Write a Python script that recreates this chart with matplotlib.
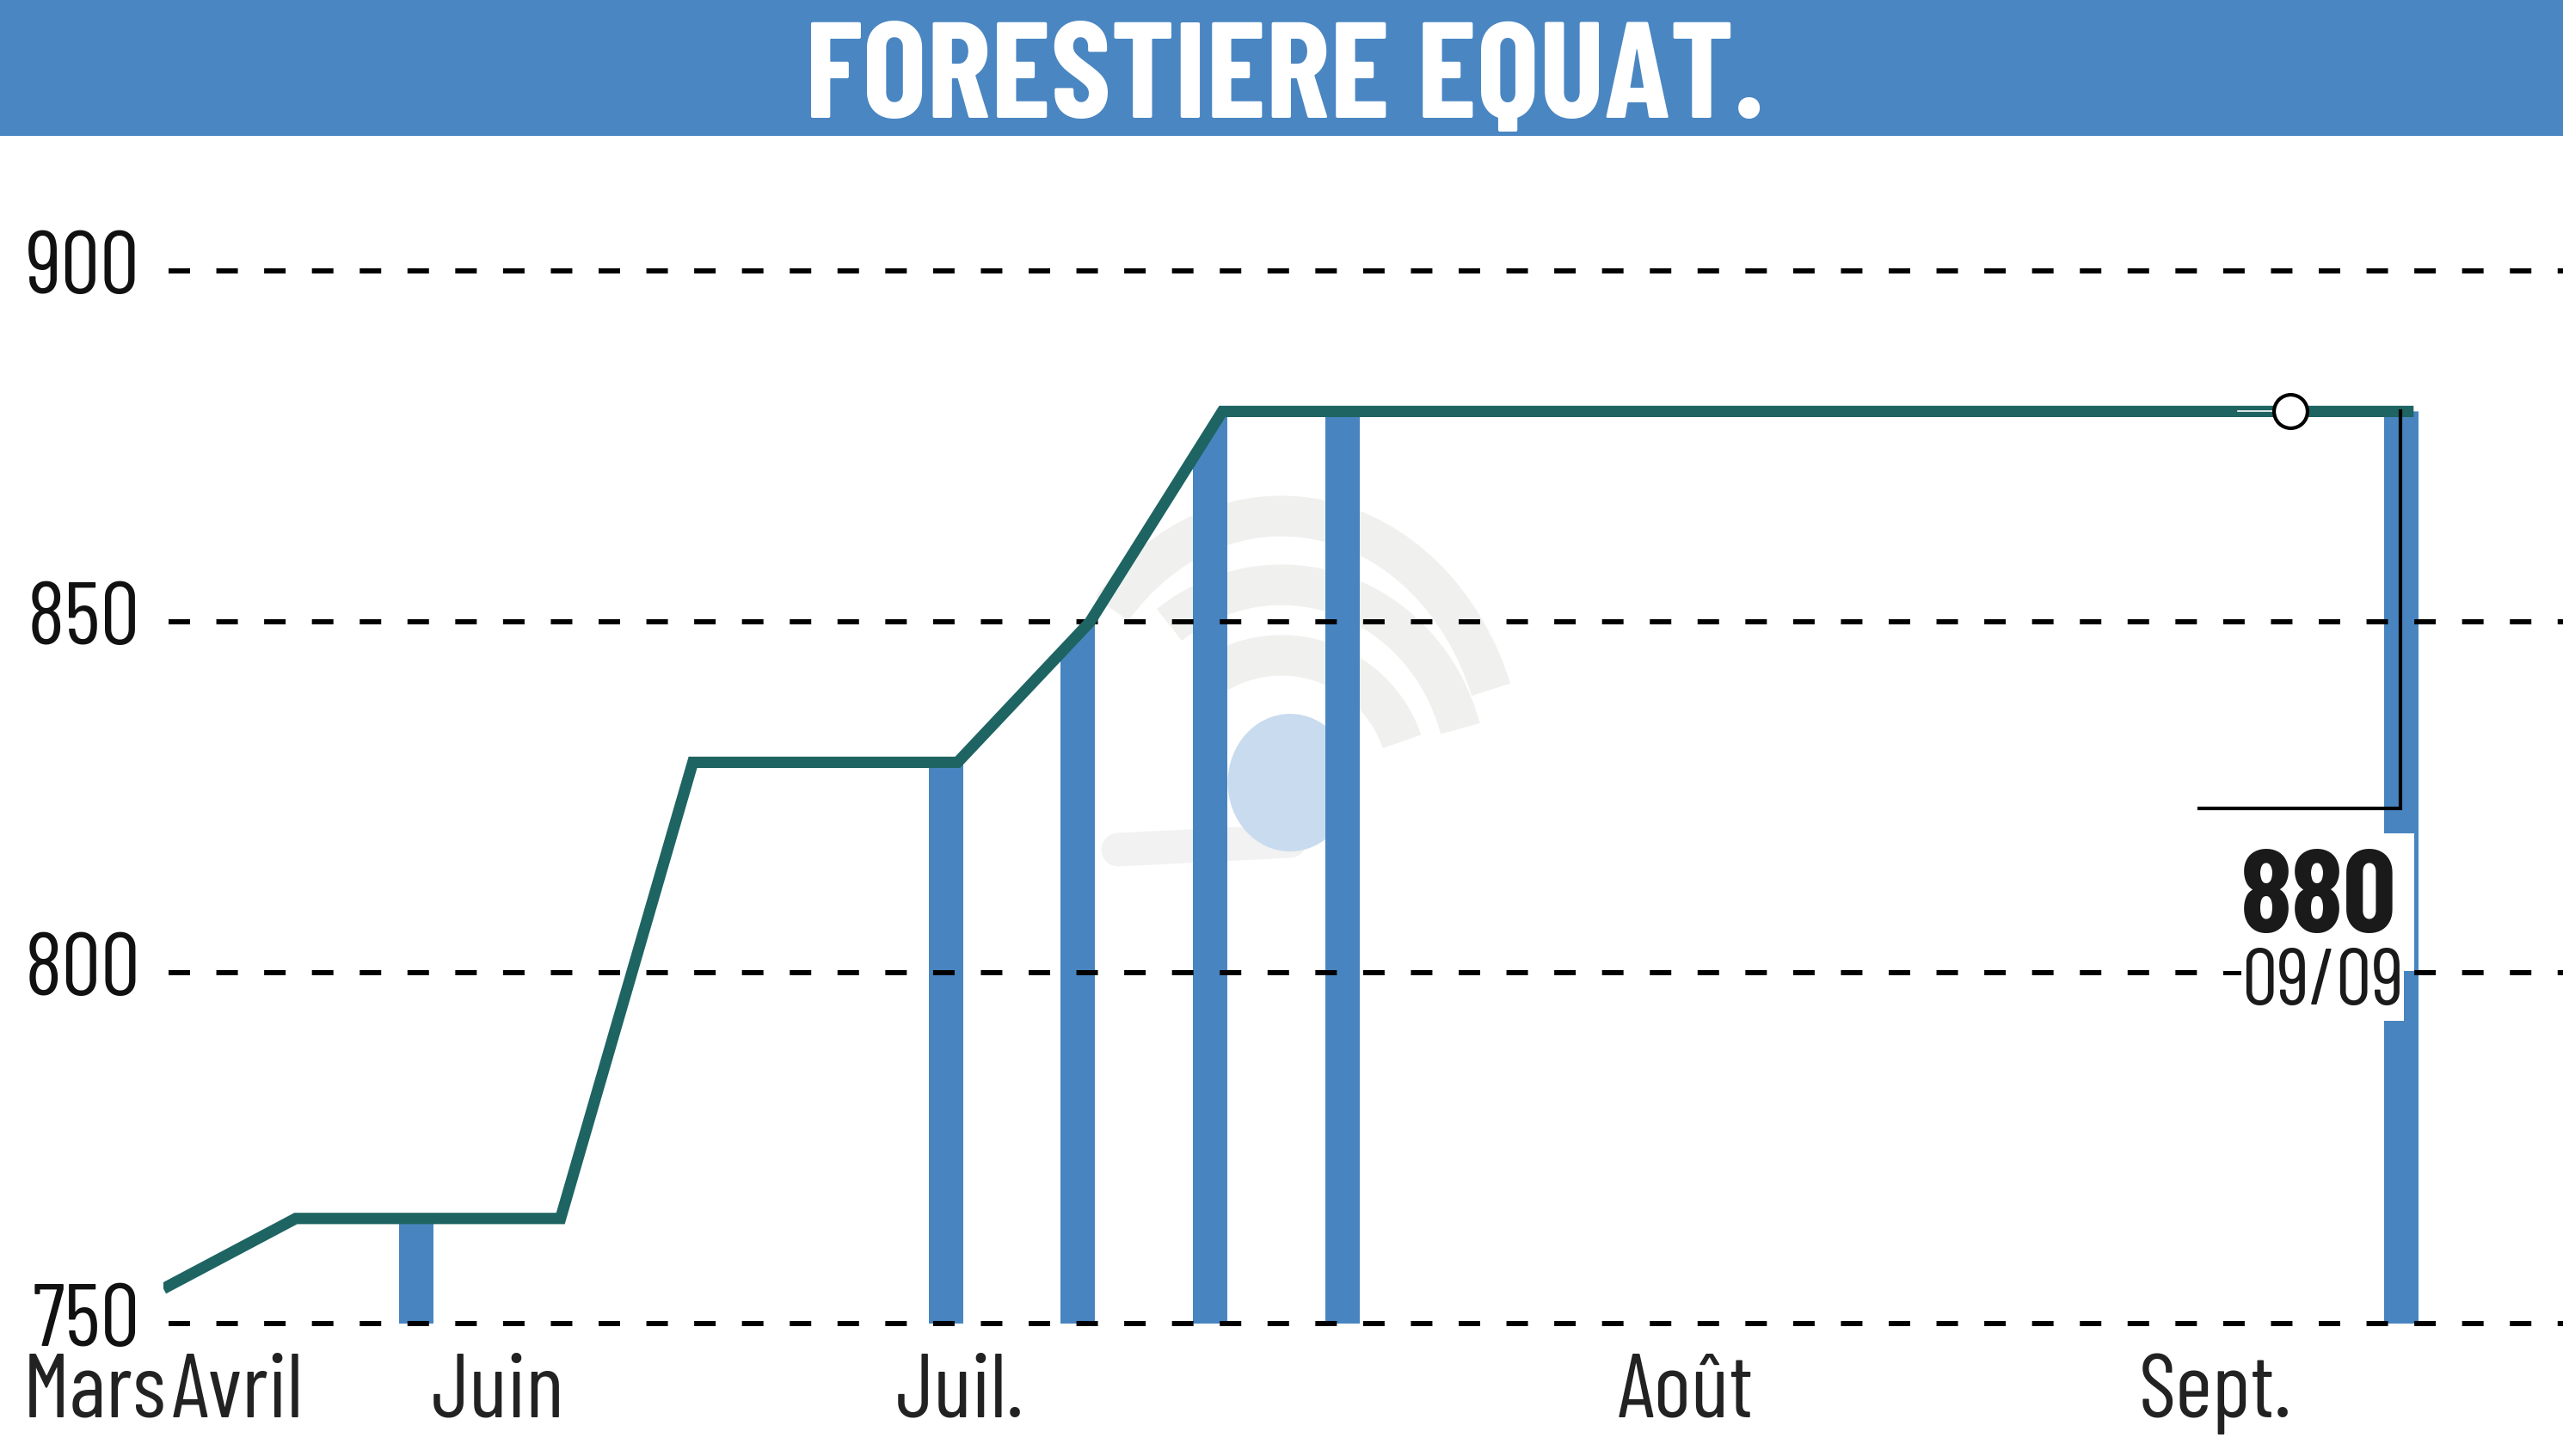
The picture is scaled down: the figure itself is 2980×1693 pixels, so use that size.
import matplotlib
matplotlib.use('Agg')
import matplotlib.pyplot as plt
from matplotlib import font_manager
from matplotlib.patches import Rectangle, Polygon, Arc, Ellipse
import numpy as np

# Data (one point per quotation day)
prices = [755, 765, 765, 765, 830, 830, 830, 850, 880, 880,
          880, 880, 880, 880, 880, 880, 880, 880]
bar_days = [2, 6, 7, 8, 9, 17]
month_labels = ['Mars', 'Avril', 'Juin', 'Juil.', 'Août', 'Sept.']
month_pos = [-0.52, 0.56, 2.53, 6.02, 11.5, 15.5]
y_ticks = [750, 800, 850, 900]
marker_day = 16.07
last_value = '880'
last_date = '09/09'
title = 'FORESTIERE EQUAT.'

W, H = 2980, 1693
BLUE = '#4885C0'
LINE = '#1E6462'

# Condensed font if available
names = {f.name for f in font_manager.fontManager.ttflist}
if 'Barlow Condensed' in names:
    cond = ['Barlow Condensed', 'DejaVu Sans']
    k = 1.0
else:
    cond = ['DejaVu Sans']
    k = 0.72

plt.rcParams['lines.scale_dashes'] = False


def fx(x):
    return x / W


def fy(y):
    return 1 - y / H


fig = plt.figure(figsize=(W / 100, H / 100), dpi=100)

# Title band
fig.patches.append(Rectangle((0, fy(158)), 1, 158 / H, transform=fig.transFigure,
                             facecolor='#4A86C2', edgecolor='none', zorder=0))
fig.text(fx(1494), fy(137), title, color='white', fontsize=114 * k, fontweight='bold',
         family=cond, ha='center', va='baseline')

# Axes: left 190px, right 2980px, top 180px, bottom 1580px
ax = fig.add_axes([fx(190), fy(1580), fx(2790), 1400 / H])
ax.set_xlim(0, (2980 - 190) / 153.9)
ax.set_ylim(745, 745 + 1400 / 8.16)
ax.axis('off')

# Faint watermark logo
wm = dict(transform=fig.transFigure, fill=False, edgecolor='#F0F1EF', zorder=0.5)
ax.add_patch(Arc((fx(1490), fy(910)), 2 * 260 / W, 2 * 310 / H, theta1=38, theta2=119, lw=34, **wm))
ax.add_patch(Arc((fx(1490), fy(910)), 2 * 216 / W, 2 * 230 / H, theta1=28, theta2=112, lw=34, **wm))
ax.add_patch(Arc((fx(1490), fy(910)), 2 * 148 / W, 2 * 148 / H, theta1=31, theta2=108, lw=34, **wm))
ax.add_patch(Ellipse((fx(1500), fy(910)), 145 / W, 160 / H, transform=fig.transFigure,
                     facecolor='#C9DBEE', edgecolor='none', zorder=0.6))
ax.plot([fx(1300), fx(1500)], [fy(988), fy(978)], transform=fig.transFigure,
        color='#F1F2F1', lw=28, solid_capstyle='round', zorder=0.5)

x = np.arange(len(prices))
p = np.array(prices, dtype=float)

# Volume bars, clipped under the price line
bars = ax.bar(x[bar_days] - 0.22, p[bar_days] - 750, bottom=750, width=0.26,
              align='edge', color=BLUE, zorder=1)
clip = Polygon(np.vstack([np.column_stack([x, p]), [[x[-1] + 0.1, p[-1]],
                                                    [x[-1] + 0.1, 745], [0, 745]]]),
               closed=True, transform=ax.transData)
for b in bars:
    b.set_clip_path(clip)

# Dashed grid
for v in y_ticks:
    ax.axhline(v, xmin=0.002, color='black', lw=4.3, dashes=(18, 22), clip_on=False, zorder=2)
    ax.text(-27 / 2790, v, str(v), transform=ax.get_yaxis_transform(), ha='right',
            va='center', fontsize=74 * k, family=cond, color='#111111')

# Price line
ax.plot(x, p, color=LINE, lw=9.5, solid_joinstyle='miter', solid_capstyle='butt', zorder=3)

# Month labels
for lab, pos in zip(month_labels, month_pos):
    ax.text(pos, -68 / 1400, lab, transform=ax.get_xaxis_transform(), ha='center',
            va='baseline', fontsize=75 * k, family=cond, color='#222222', clip_on=False)

# Last value marker and annotation
ax.plot([marker_day - 0.4, marker_day], [p[-1], p[-1]], color='white', lw=1.2, zorder=4)
ax.plot(marker_day, p[-1], 'o', ms=28, mfc='white', mec='black', mew=3, zorder=5)
ax.plot([x[-1] - 0.1, x[-1] - 0.1, x[-1] - 1.62], [p[-1], 823.4, 823.4],
        color='black', lw=3, solid_joinstyle='miter', zorder=6)

fig.text(fx(2787), fy(1084), last_value, fontsize=98 * k, fontweight='bold', family=cond,
         ha='right', va='baseline', color='#1A1A1A', zorder=5,
         bbox=dict(boxstyle='square,pad=0.15', facecolor='white', edgecolor='none'))
fig.text(fx(2795), fy(1168), last_date, fontsize=67 * k, family=cond,
         ha='right', va='baseline', color='#1A1A1A', zorder=5,
         bbox=dict(boxstyle='square,pad=0', facecolor='white', edgecolor='none'))

fig.savefig('out.png', dpi=100, facecolor='white')
